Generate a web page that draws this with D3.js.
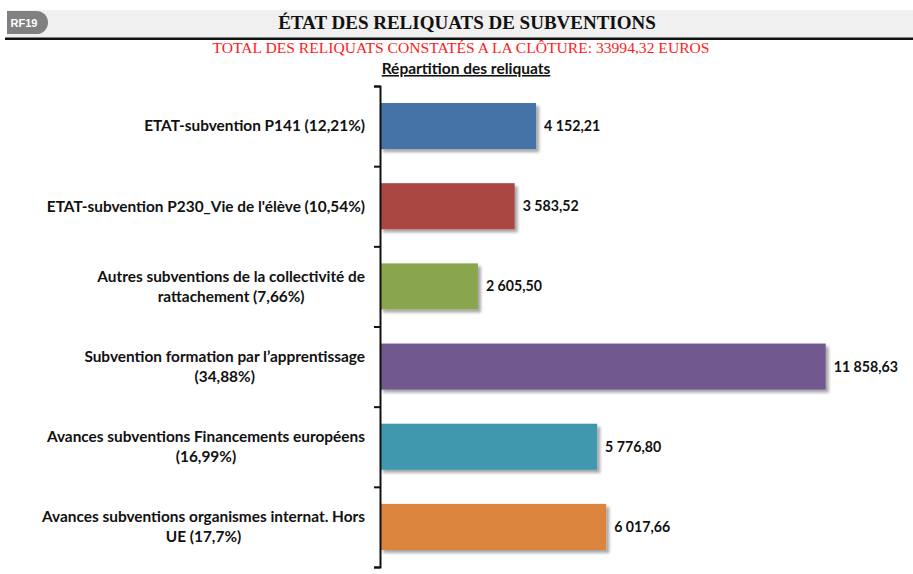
<!DOCTYPE html>
<html>
<head>
<meta charset="utf-8">
<script src="https://cdn.jsdelivr.net/npm/d3@7"></script>
<style>
  body { margin: 0; background: #fff; }
  svg { display: block; }
</style>
</head>
<body>
<div id="chart"></div>
<script>
// data
var categories = [
    ["ETAT-subvention P141 (12,21%)"],
    ["ETAT-subvention P230_Vie de l'élève (10,54%)"],
    ["Autres subventions de la collectivité de", "rattachement (7,66%)"],
    ["Subvention formation par l’apprentissage", "(34,88%)"],
    ["Avances subventions Financements européens", "(16,99%)"],
    ["Avances subventions organismes internat. Hors", "UE (17,7%)"]
];
var values = [4152.21, 3583.52, 2605.50, 11858.63, 5776.80, 6017.66];
var colors = ["#4572A7", "#AA4643", "#89A54E", "#71588F", "#4198AF", "#DB843D"];

var width = 913, height = 574;
var labelFont = "Lato, 'Open Sans', sans-serif";

var fr = d3.formatLocale({decimal: ",", thousands: "\u00a0", grouping: [3]});
var fmt = fr.format(",.2f");

function translate(x, y){
    return "translate(" + x + "," + y + ")";
}

var svg = d3.select("#chart").append("svg")
    .attr("width", width)
    .attr("height", height);

var defs = svg.append("defs");
var shadow = defs.append("filter").attr("id", "shadow")
    .attr("x", "-5%").attr("y", "-20%").attr("width", "115%").attr("height", "150%");
shadow.append("feDropShadow")
    .attr("dx", 3).attr("dy", 3).attr("stdDeviation", 1.6)
    .attr("flood-color", "#000").attr("flood-opacity", 0.35);

// header band
svg.append("rect").attr("x", 7).attr("y", 10).attr("width", width - 7).attr("height", 28)
    .attr("fill", "#f0f0f0");
svg.append("rect").attr("x", 5).attr("y", 37.5).attr("width", width - 5).attr("height", 2.5)
    .attr("fill", "#111");
svg.append("rect").attr("x", 7).attr("y", 11).attr("width", 41).attr("height", 23)
    .attr("rx", 11.5).attr("fill", "#808080");
svg.append("rect").attr("x", 7).attr("y", 11).attr("width", 14).attr("height", 23)
    .attr("fill", "#808080");
svg.append("text").attr("x", 24).attr("y", 27)
    .attr("text-anchor", "middle")
    .attr("font-family", "'Liberation Sans', Arial, sans-serif")
    .attr("font-weight", "bold").attr("font-size", 11)
    .attr("fill", "#fff")
    .text("RF19");

svg.append("text").attr("x", 467).attr("y", 29)
    .attr("text-anchor", "middle")
    .attr("font-family", "'Liberation Serif', serif")
    .attr("font-weight", "bold").attr("font-size", 19)
    .attr("fill", "#111")
    .text("ÉTAT DES RELIQUATS DE SUBVENTIONS");

svg.append("text").attr("x", 461).attr("y", 53)
    .attr("text-anchor", "middle")
    .attr("font-family", "'Liberation Serif', serif")
    .attr("font-size", 15.6)
    .attr("fill", "#ff1a1a")
    .text("TOTAL DES RELIQUATS CONSTATÉS A LA CLÔTURE: 33994,32 EUROS");

svg.append("text").attr("x", 466).attr("y", 74)
    .attr("text-anchor", "middle")
    .attr("font-family", labelFont)
    .attr("font-weight", "bold").attr("font-size", 15.5)
    .attr("text-decoration", "underline")
    .attr("fill", "#111")
    .text("Répartition des reliquats");

// scales
var x0 = 380, yTop = 86, yBottom = 567;
var x = d3.scaleLinear().domain([0, 12000]).range([0, 451]);
var y = d3.scaleBand()
    .domain(d3.range(values.length))
    .range([yTop, yBottom])
    .paddingInner(0.425)
    .paddingOuter(0.2125);
var yEdge = d3.scaleLinear().domain([0, values.length]).range([yTop, yBottom]);

var g = svg.append("g").attr("transform", translate(x0, 0));

// bars
g.selectAll(".bar")
    .data(values)
    .enter()
    .append("rect")
    .attr("class", "bar")
    .attr("x", 0)
    .attr("y", function(d, i){ return y(i); })
    .attr("width", function(d){ return x(d); })
    .attr("height", y.bandwidth())
    .attr("fill", function(d, i){ return colors[i]; })
    .attr("filter", "url(#shadow)");

// value labels
g.selectAll(".val")
    .data(values)
    .enter()
    .append("text")
    .attr("class", "val")
    .attr("x", function(d){ return x(d) + 8; })
    .attr("y", function(d, i){ return y(i) + y.bandwidth() / 2; })
    .attr("dy", "0.35em")
    .attr("font-family", labelFont)
    .attr("font-weight", "bold").attr("font-size", 14.2)
    .attr("fill", "#111")
    .text(fmt);

// axis with ticks at category boundaries
var yAxis = d3.axisLeft(yEdge)
    .ticks(values.length)
    .tickSize(6)
    .tickFormat("");
var ax = g.append("g").attr("class", "y-axis").call(yAxis);
ax.selectAll("path, line").attr("stroke", "#111").attr("stroke-width", 2);

// category labels
var labelRight = 365;
var lineGap = 20;
var lab = svg.selectAll(".cat")
    .data(categories)
    .enter()
    .append("text")
    .attr("class", "cat")
    .attr("font-family", labelFont)
    .attr("font-weight", "bold").attr("font-size", 15.4)
    .attr("fill", "#111");

lab.each(function(lines, i){
    var t = d3.select(this);
    var cy = y(i) + y.bandwidth() / 2;
    var first = t.append("tspan")
        .attr("x", labelRight)
        .attr("y", cy - (lines.length - 1) * lineGap / 2)
        .attr("dy", "0.35em")
        .attr("text-anchor", "end")
        .text(lines[0]);
    var w = first.node().getComputedTextLength();
    for (var k = 1; k < lines.length; k++) {
        t.append("tspan")
            .attr("x", labelRight - w / 2)
            .attr("y", cy - (lines.length - 1) * lineGap / 2 + k * lineGap)
            .attr("dy", "0.35em")
            .attr("text-anchor", "middle")
            .text(lines[k]);
    }
});
</script>
</body>
</html>
